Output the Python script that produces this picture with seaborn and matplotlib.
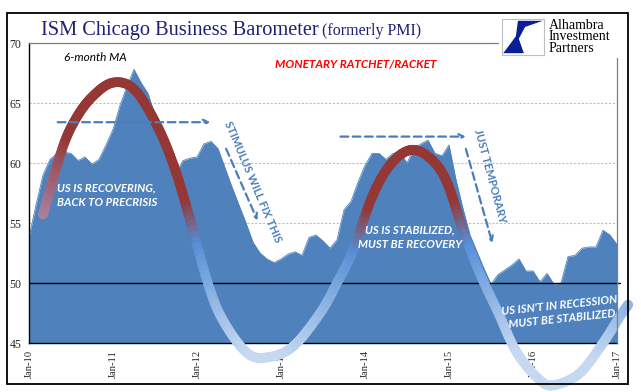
import numpy as np
import matplotlib
matplotlib.use("Agg")
import matplotlib.pyplot as plt
import seaborn as sns
from matplotlib.collections import LineCollection
from matplotlib.patches import Rectangle, Polygon

# ISM Chicago, monthly, Jan-10 .. Jan-17 (6-month MA)
ism = [53.8, 56.5, 59.0, 60.3, 60.8, 60.9, 60.8, 60.2, 60.5, 59.9, 60.3, 61.5,   # 2010
       62.8, 64.8, 66.4, 67.8, 66.7, 65.8, 64.0, 62.1, 60.4, 59.2, 60.2, 60.4,   # 2011
       60.5, 61.6, 61.8, 61.2, 59.6, 58.0, 56.5, 55.0, 53.4, 52.5, 52.0, 51.7,   # 2012
       52.0, 52.4, 52.6, 52.3, 53.8, 54.0, 53.5, 52.9, 53.6, 56.1, 56.8, 58.4,   # 2013
       59.8, 60.8, 60.8, 60.3, 60.8, 60.9, 60.0, 61.2, 61.6, 61.9, 60.8, 60.6,   # 2014
       61.5, 58.6, 56.2, 54.0, 52.6, 51.2, 49.9, 50.7, 51.1, 51.5, 52.0, 51.0,   # 2015
       51.0, 50.1, 50.8, 49.9, 50.0, 52.2, 52.3, 52.9, 53.0, 53.0, 54.4, 54.0,   # 2016
       53.2]                                                                      # 2017
months = list(range(len(ism)))
year_ticks = [0, 12, 24, 36, 48, 60, 72, 84]
year_labels = ["Jan-10", "Jan-11", "Jan-12", "Jan-13", "Jan-14", "Jan-15", "Jan-16", "Jan-17"]
y_ticks = [45, 50, 55, 60, 65, 70]

# the hand drawn "ratchet" wave (month, level)
wave_x = [2.0, 4.7, 6.6, 9.0, 12.0, 15.1, 18.4, 20.9, 23.0, 25.6, 27.7, 31.1, 34.0,
          37.7, 41.6, 44.0, 46.2, 49.1, 51.8, 54.7, 57.5, 59.7, 62.0, 64.4, 66.9,
          69.7, 73.0, 75.1, 78.7, 82.0, 84.4, 85.6]
wave_y = [55.7, 61.1, 63.6, 65.5, 66.7, 66.1, 63.0, 59.4, 55.3, 49.9, 46.9, 44.2, 43.8,
          44.7, 47.5, 50.0, 52.6, 57.3, 60.0, 61.1, 60.3, 58.4, 54.4, 50.8, 47.7,
          44.2, 41.9, 41.5, 42.5, 45.0, 47.2, 48.2]

BLUE = "#4F81BD"
ARROW = "#4A7EBB"
RED = np.array([149, 55, 53]) / 255
MID = np.array([85, 142, 213]) / 255
LIGHT = np.array([198, 217, 241]) / 255
MAUVE = np.array([170, 130, 160]) / 255


def catmull(xs, ys, n=12):
    pts = np.column_stack([xs, ys])
    pts = np.vstack([pts[0], pts, pts[-1]])
    out = []
    for k in range(1, len(pts) - 2):
        p0, p1, p2, p3 = pts[k - 1], pts[k], pts[k + 1], pts[k + 2]
        for t in np.linspace(0, 1, n, endpoint=False):
            out.append(0.5 * ((2 * p1) + (-p0 + p2) * t + (2 * p0 - 5 * p1 + 4 * p2 - p3) * t ** 2
                              + (-p0 + 3 * p1 - 3 * p2 + p3) * t ** 3))
    out.append(pts[-2])
    return np.array(out)


def wave_color(x, v):
    if v >= 56.5:
        c = RED
    elif v >= 53:
        t = (56.5 - v) / 3.5
        c = RED * (1 - t) + MID * t
    else:
        t = min(1.0, (53 - v) / 9.0)
        c = MID * (1 - t) + LIGHT * t
    # faded tail at the very start
    if x < 5.5:
        t = (5.5 - x) / 3.5
        c = c * (1 - t) + MAUVE * t
    return c


sns.set_style("white")
plt.rcParams['font.family'] = ['Liberation Serif', 'DejaVu Serif']

fig = plt.figure(figsize=(6.41, 3.92), dpi=100)
ax = fig.add_axes([29 / 641, 1 - 343 / 392, 588 / 641, 300 / 392])

# area
ax.fill_between(months, 45, ism, color=BLUE, lw=0, zorder=1)
sns.lineplot(x=months, y=ism, ax=ax, color=BLUE, lw=0.6, zorder=1)

for g in [55, 60, 65]:
    ax.axhline(g, color="#BFBFBF", lw=0.8, ls=(0, (2, 1.5)), zorder=0.5)
ax.axhline(50, color="black", lw=1.0, zorder=3, xmax=1.005, clip_on=False)

ax.set_xlim(0, 84)
ax.set_ylim(45, 70)
ax.set_xticks(year_ticks)
ax.set_xticklabels(year_labels, rotation=90, fontsize=7.6)
ax.set_yticks(y_ticks)
ax.set_yticklabels([str(v) for v in y_ticks], fontsize=8.5)
ax.tick_params(direction="out", length=3.5, width=0.8, color="black", pad=2)
ax.tick_params(axis="x", length=3.5, pad=1.5)
for s in ["top", "right"]:
    ax.spines[s].set_visible(False)
for s in ["left", "bottom"]:
    ax.spines[s].set_color("black")
    ax.spines[s].set_linewidth(1.0)
ax.set_xlabel("")
ax.set_ylabel("")

# wave with colour gradient
pts = catmull(wave_x, wave_y)
segs = np.stack([pts[:-1], pts[1:]], axis=1)
cols = [wave_color((a[0] + b[0]) / 2, (a[1] + b[1]) / 2) for a, b in zip(pts[:-1], pts[1:])]
lc = LineCollection(segs, colors=cols, linewidths=7, capstyle="round", zorder=5, clip_on=False)
ax.add_collection(lc)

# dashed arrows
arrow_kw = dict(arrowstyle="->", color=ARROW, lw=1.6, ls=(0, (3.5, 2)), mutation_scale=9)
ax.annotate("", xy=(26.3, 63.4), xytext=(3.7, 63.4), arrowprops=arrow_kw, zorder=6)
ax.annotate("", xy=(62.8, 62.2), xytext=(44.1, 62.2), arrowprops=arrow_kw, zorder=6)
ax.annotate("", xy=(32.8, 55.0), xytext=(28.0, 61.4), arrowprops=arrow_kw, zorder=6)
ax.annotate("", xy=(66.3, 53.1), xytext=(62.3, 61.4), arrowprops=arrow_kw, zorder=6)

sans = ['Lato', 'DejaVu Sans']
ax.text(32.0, 58.4, "STIMULUS WILL FIX THIS", rotation=-67, color=ARROW, fontsize=8,
        fontweight="bold", family=sans, ha="center", va="center", zorder=7,
        rotation_mode="anchor")
ax.text(65.8, 58.9, "JUST TEMPORARY", rotation=-75, color=ARROW, fontsize=8,
        fontweight="bold", family=sans, ha="center", va="center", zorder=7,
        rotation_mode="anchor")

ax.text(5.0, 68.8, "6-month MA", fontsize=8.5, style="italic", family=sans,
        color="black", ha="left", va="center", zorder=7)
ax.text(46.6, 68.2, "MONETARY RATCHET/RACKET", fontsize=8.5, style="italic",
        fontweight="bold", family=sans, color="#FF0000", ha="center", va="center", zorder=7)
ax.text(4.0, 57.3, "US IS RECOVERING,\nBACK TO PRECRISIS", fontsize=8.2, style="italic",
        fontweight="bold", family=sans, color="white", ha="left", va="center",
        linespacing=1.45, zorder=7)
ax.text(54.4, 53.8, "US IS STABILIZED,\nMUST BE RECOVERY", fontsize=8.2, style="italic",
        fontweight="bold", family=sans, color="white", ha="center", va="center",
        linespacing=1.45, zorder=7)
ax.text(76.1, 47.6, "US ISN'T IN RECESSION,\nMUST BE STABILIZED", fontsize=8.2, style="italic",
        fontweight="bold", family=sans, color="white", ha="center", va="center",
        linespacing=1.45, rotation=6, zorder=7)

# frame pieces around the plot
fig.add_artist(plt.Line2D([29 / 641, 498 / 641], [1 - 43 / 392, 1 - 43 / 392],
                          color="#7F7F7F", lw=0.9))
fig.add_artist(plt.Line2D([617 / 641, 617 / 641], [1 - 58 / 392, 1 - 343 / 392],
                          color="#7F7F7F", lw=0.9))
fig.add_artist(Rectangle((7 / 641, 1 - 384 / 392), 621 / 641, 371 / 392,
                         fill=False, edgecolor="black", lw=1.3, transform=fig.transFigure))

# title
fig.text(41 / 641, 1 - 31 / 392, "ISM Chicago Business Barometer", fontsize=14.7,
         color="#1F1F7A", ha="left", va="center")
fig.text(322 / 641, 1 - 31 / 392, "(formerly PMI)", fontsize=11.5,
         color="#1F1F7A", ha="left", va="center")

# logo
lax = fig.add_axes([502 / 641, 1 - 55 / 392, 42 / 641, 36 / 392])
lax.set_xlim(0, 1)
lax.set_ylim(0, 1)
lax.set_xticks([])
lax.set_yticks([])
for s in lax.spines.values():
    s.set_color("#BFBFBF")
    s.set_linewidth(0.8)
lax.add_patch(Polygon([(0.03, 0.05), (0.33, 0.52), (0.38, 0.95), (0.97, 0.95),
                       (0.55, 0.78), (0.40, 0.45), (0.52, 0.05)], closed=True,
                      color="#0A1E96", lw=0))
fig.text(549 / 641, 1 - 37 / 392, "Alhambra\nInvestment\nPartners", fontsize=10,
         color="black", ha="left", va="center", linespacing=0.82)

fig.savefig("out.png", dpi=100)
